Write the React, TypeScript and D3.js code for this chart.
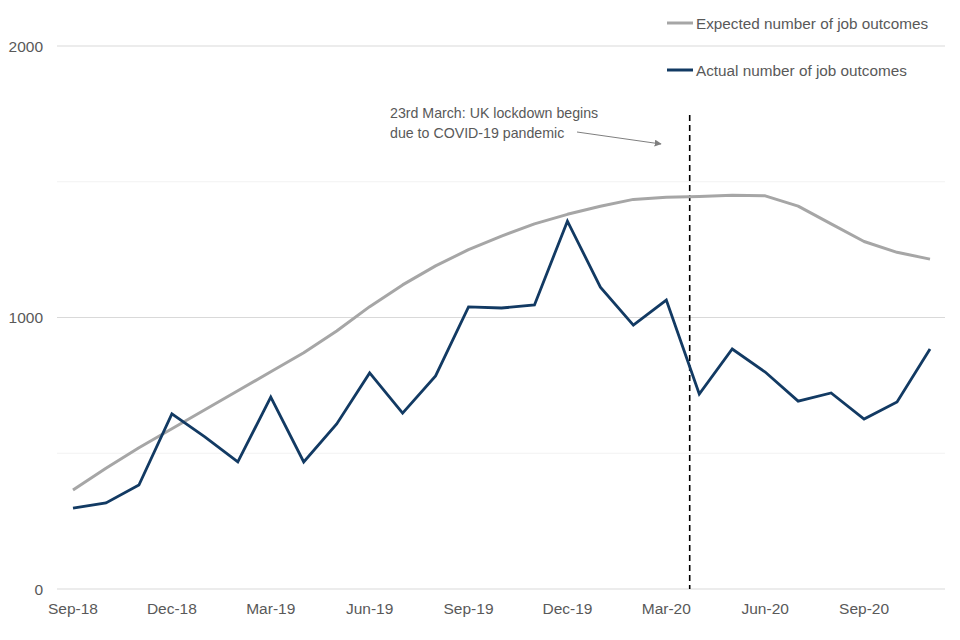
import React from "react";
import * as d3 from "d3";

const months = [
  "Sep-18","Oct-18","Nov-18","Dec-18","Jan-19","Feb-19","Mar-19","Apr-19","May-19",
  "Jun-19","Jul-19","Aug-19","Sep-19","Oct-19","Nov-19","Dec-19","Jan-20","Feb-20",
  "Mar-20","Apr-20","May-20","Jun-20","Jul-20","Aug-20","Sep-20","Oct-20","Nov-20",
];
const expected = [
  365, 445, 520, 590, 660, 730, 800, 870, 950, 1040, 1120, 1190, 1250, 1300, 1345,
  1380, 1410, 1435, 1443, 1446, 1450, 1448, 1410, 1345, 1280, 1240, 1215,
];
const actual = [
  298, 317, 383, 645, 560, 468, 707, 468, 608, 796, 648, 785, 1039, 1035, 1046,
  1355, 1112, 972, 1064, 718, 884, 799, 692, 722, 626, 689, 884,
];
const tickMonths = ["Sep-18","Dec-18","Mar-19","Jun-19","Sep-19","Dec-19","Mar-20","Jun-20","Sep-20"];
const majorTicks = [0, 1000, 2000];
const minorTicks = [500, 1500];
const lockdownIndex = 18 + 22 / 31;

const GREY = "#a6a6a6";
const NAVY = "#123a63";
const TEXT = "#595959";
const FONT = "'Liberation Sans', Arial, sans-serif";

export default function App() {
  const W = 960, H = 640;
  const x = d3.scaleLinear().domain([0, months.length - 1]).range([73, 930]);
  const y = d3.scaleLinear().domain([0, 2000]).range([589, 46]);
  const line = d3.line<number>().x((_, i) => x(i)).y((d) => y(d));
  const gx0 = 57, gx1 = 945;
  const lx = x(lockdownIndex);

  return (
    <svg width={W} height={H} style={{ position: "absolute", left: 0, top: 0, background: "#fff" }}>
      <defs>
        <marker id="arr" viewBox="0 0 10 10" refX="9" refY="5" markerWidth="7" markerHeight="7" orient="auto">
          <path d="M0,0 L10,5 L0,10 z" fill="#7f7f7f" />
        </marker>
      </defs>
      {minorTicks.map((t) => (
        <line key={"m" + t} x1={gx0} x2={gx1} y1={y(t)} y2={y(t)} stroke="#f2f2f2" strokeWidth={1} />
      ))}
      {majorTicks.map((t) => (
        <line key={"g" + t} x1={gx0} x2={gx1} y1={y(t)} y2={y(t)} stroke="#d9d9d9" strokeWidth={1.2} />
      ))}
      {majorTicks.map((t) => (
        <text key={"t" + t} x={43} y={y(t) + 5.5} textAnchor="end" fontFamily={FONT} fontSize={15.5} fill={TEXT}>
          {t}
        </text>
      ))}
      {tickMonths.map((m) => (
        <text key={m} x={x(months.indexOf(m))} y={614} textAnchor="middle" fontFamily={FONT} fontSize={15.5} fill={TEXT}>
          {m}
        </text>
      ))}
      <line x1={lx} x2={lx} y1={115} y2={y(0)} stroke="#000" strokeWidth={1.6} strokeDasharray="6,4" />
      <path d={line(expected) || ""} fill="none" stroke={GREY} strokeWidth={3} strokeLinejoin="round" />
      <path d={line(actual) || ""} fill="none" stroke={NAVY} strokeWidth={2.8} strokeLinejoin="miter" />
      <text x={390} y={118} fontFamily={FONT} fontSize={14.2} fill={TEXT}>23rd March: UK lockdown begins</text>
      <text x={390} y={138} fontFamily={FONT} fontSize={14.2} fill={TEXT}>due to COVID-19 pandemic</text>
      <line x1={577} y1={132} x2={661} y2={144} stroke="#7f7f7f" strokeWidth={1} markerEnd="url(#arr)" />
      <line x1={667} x2={693} y1={23} y2={23} stroke={GREY} strokeWidth={3} />
      <text x={696} y={29} fontFamily={FONT} fontSize={15.3} fill={TEXT}>Expected number of job outcomes</text>
      <line x1={667} x2={693} y1={70} y2={70} stroke={NAVY} strokeWidth={3} />
      <text x={696} y={76} fontFamily={FONT} fontSize={15.3} fill={TEXT}>Actual number of job outcomes</text>
    </svg>
  );
}
